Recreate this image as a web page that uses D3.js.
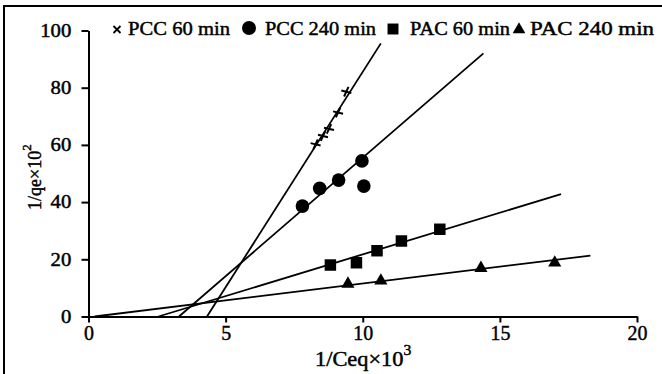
<!DOCTYPE html>
<html><head><meta charset="utf-8">
<script src="https://cdn.jsdelivr.net/npm/d3@7"></script>
<style>
body{margin:0;background:#fff}
svg{display:block}
</style>
</head><body>
<svg id="c" width="662" height="374"></svg>
<script>
// ---- data ----
const seriesNames = ["PCC 60 min", "PCC 240 min", "PAC 60 min", "PAC 240 min"];
const pcc60X  = [8.28, 8.55, 8.77, 9.10, 9.40];
const pcc60Y  = [60.2, 63.1, 65.6, 71.3, 78.6];
const pcc240X = [7.80, 8.43, 9.12, 9.97, 10.04];
const pcc240Y = [38.6, 44.8, 47.7, 54.4, 45.6];
const pac60X  = [8.82, 9.77, 10.52, 11.41, 12.81];
const pac60Y  = [18.0, 18.8, 23.0, 26.4, 30.5];
const pac240X = [9.46, 10.66, 14.31, 17.0];
const pac240Y = [11.4, 12.5, 16.9, 18.8];
// fitted straight lines: [x0, y0, x1, y1]
const pcc60Fit  = [4.32, 0, 10.66, 95.5];
const pcc240Fit = [3.30, 0, 14.4, 92];
const pac60Fit  = [2.55, 0, 17.23, 42.8];
const pac240Fit = [0.22, 0, 18.3, 21.3];
const xTicks = [0, 5, 10, 15, 20];
const yTicks = [0, 20, 40, 60, 80, 100];
const xTitle = "1/Ceq×10", xTitleSup = "3";
const yTitle = "1/qe×10", yTitleSup = "2";

// ---- drawing ----
const FONT = "'Liberation Serif', 'Times New Roman', Times, serif";
const svg = d3.select("#c");
const x = d3.scaleLinear().domain([0, 20]).range([88.5, 637]);
const y = d3.scaleLinear().domain([0, 100]).range([316.5, 30.5]);

// outer frame (left and top edges)
svg.append("path").attr("d", "M4,374V6H662").attr("fill", "none").attr("stroke", "#000").attr("stroke-width", 2);

// axes
const gx = svg.append("g").attr("transform", `translate(0,${y(0)})`)
  .call(d3.axisBottom(x).tickValues(xTicks).tickSize(6).tickSizeOuter(0).tickPadding(2));
gx.selectAll("text").attr("font-size", 21).attr("dy", "0.72em").attr("transform", "scale(0.95,1)");
const gy = svg.append("g").attr("transform", `translate(${x(0)},0)`)
  .call(d3.axisLeft(y).tickValues(yTicks).tickSize(7).tickSizeOuter(0).tickPadding(8));
gy.selectAll("text").attr("font-size", 18).attr("transform", "scale(1.15,1)");
svg.selectAll(".domain, .tick line").attr("stroke", "#000").attr("stroke-width", 2);

// fitted lines
const fits = [pcc60Fit, pcc240Fit, pac60Fit, pac240Fit];
svg.append("g").selectAll("line").data(fits).join("line")
  .attr("x1", d => x(d[0])).attr("y1", d => y(d[1]))
  .attr("x2", d => x(d[2])).attr("y2", d => y(d[3]))
  .attr("stroke", "#000").attr("stroke-width", 1.8);

// markers
const crossPath = "M-5,-1.2L5,1.2M-2.2,4.8L2.2,-4.8";
svg.append("g").selectAll("path").data(d3.zip(pcc60X, pcc60Y)).join("path")
  .attr("d", crossPath).attr("transform", d => `translate(${x(d[0])},${y(d[1])})`)
  .attr("stroke", "#000").attr("stroke-width", 2).attr("fill", "none");
svg.append("g").selectAll("circle").data(d3.zip(pcc240X, pcc240Y)).join("circle")
  .attr("cx", d => x(d[0])).attr("cy", d => y(d[1])).attr("r", 6.8).attr("fill", "#000");
const sq = d3.symbol(d3.symbolSquare, 132)();
svg.append("g").selectAll("path").data(d3.zip(pac60X, pac60Y)).join("path")
  .attr("d", sq).attr("transform", d => `translate(${x(d[0])},${y(d[1])})`).attr("fill", "#000");
const tri = d3.symbol(d3.symbolTriangle, 75)();
svg.append("g").selectAll("path").data(d3.zip(pac240X, pac240Y)).join("path")
  .attr("d", tri).attr("transform", d => `translate(${x(d[0])},${y(d[1])})`).attr("fill", "#000");

// legend
const lg = svg.append("g");
const legPos = [[117, 128, 102], [249, 265, 111], [393, 410, 100], [519, 530, 124]];
lg.append("path").attr("d", "M-3.5,-3.5L3.5,3.5M-3.5,3.5L3.5,-3.5")
  .attr("transform", `translate(${legPos[0][0]},29.5)`).attr("stroke", "#000").attr("stroke-width", 1.8);
lg.append("circle").attr("cx", legPos[1][0]).attr("cy", 28).attr("r", 7).attr("fill", "#000");
lg.append("path").attr("d", d3.symbol(d3.symbolSquare, 120)()).attr("transform", `translate(${legPos[2][0]},29)`).attr("fill", "#000");
lg.append("path").attr("d", d3.symbol(d3.symbolTriangle, 70)()).attr("transform", `translate(${legPos[3][0]},29.5)`).attr("fill", "#000");
lg.selectAll("text").data(seriesNames).join("text")
  .attr("x", (d, i) => legPos[i][1]).attr("y", 35)
  .attr("textLength", (d, i) => legPos[i][2]).attr("lengthAdjust", "spacingAndGlyphs")
  .attr("font-size", 19).text(d => d);

// axis titles
const xt = svg.append("text").attr("transform", "translate(315,366) scale(1.12,1)").attr("font-size", 20);
xt.append("tspan").text(xTitle);
xt.append("tspan").attr("dy", -11).attr("font-size", 14).text(xTitleSup);
const yt = svg.append("text").attr("transform", "translate(41,210) rotate(-90)").attr("font-size", 18);
yt.append("tspan").text(yTitle);
yt.append("tspan").attr("dy", -10).attr("font-size", 13).text(yTitleSup);

// uniform text styling: serif, black, slightly heavy strokes like the printed figure
svg.selectAll("g").attr("font-family", null);
svg.selectAll("text").attr("font-family", FONT).attr("fill", "#000")
  .attr("stroke", "#000").attr("stroke-width", 0.45);
</script>
</body></html>
